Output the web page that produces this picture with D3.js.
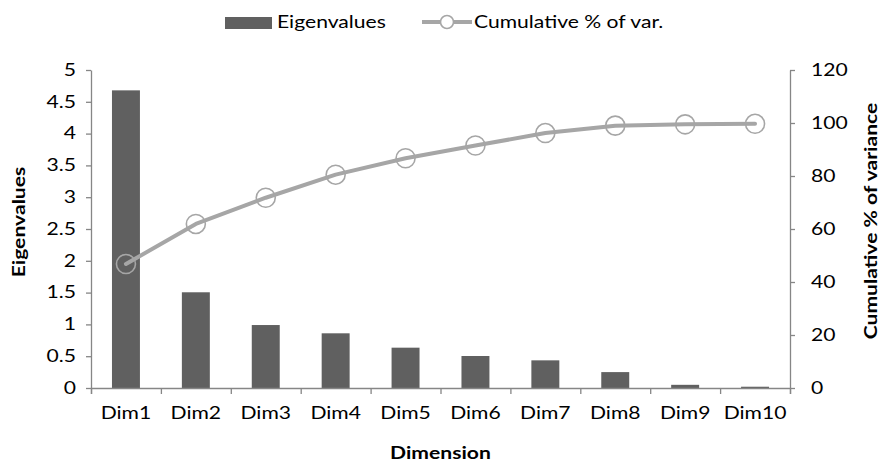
<!DOCTYPE html>
<html><head><meta charset="utf-8">
<script src="https://cdn.jsdelivr.net/npm/d3@7/dist/d3.min.js"></script>
<style>
html,body{margin:0;padding:0;background:#fff;}
text{font-family:Lato,sans-serif;fill:#000;}
</style></head>
<body><svg id="chart" width="880" height="462"></svg>
<script>
const categories = ["Dim1","Dim2","Dim3","Dim4","Dim5","Dim6","Dim7","Dim8","Dim9","Dim10"];
const eigenvalues = [4.68, 1.505, 0.99, 0.86, 0.634, 0.503, 0.435, 0.25, 0.05, 0.02];
const cumulative = [46.8, 61.9, 71.8, 80.5, 86.7, 91.5, 96.2, 99.0, 99.5, 99.7];
const leftTicks = [0,0.5,1,1.5,2,2.5,3,3.5,4,4.5,5];
const rightTicks = [0,20,40,60,80,100,120];
const seriesNames = ["Eigenvalues","Cumulative % of var."];
const axisTitles = {left:"Eigenvalues", right:"Cumulative % of variance", bottom:"Dimension"};

const svg = d3.select("#chart");
const L=91, R=790, T=70, B=388;
const axisColor="#868686", barColor="#606060", lineColor="#a6a6a6";
const fs = 16.5;
const sx = 1.28;
const font = "Lato";

function stretch(sel){
  sel.each(function(){
    const t = d3.select(this);
    const x0 = +t.attr("x") || 0;
    t.attr("x", x0/sx).attr("transform", (t.attr("transform")||"") + ` scale(${sx},1)`);
  });
}

const x = d3.scaleBand().domain(categories).range([L,R]).paddingInner(0.6).paddingOuter(0.3);
const yL = d3.scaleLinear().domain([0,5]).range([B,T]);
const yR = d3.scaleLinear().domain([0,120]).range([B,T]);

// bars
svg.append("g").selectAll("rect").data(eigenvalues).join("rect")
  .attr("x",(d,i)=>x(categories[i]))
  .attr("y",d=>yL(d))
  .attr("width",x.bandwidth())
  .attr("height",d=>B-yL(d))
  .attr("fill",barColor);

function styleAxis(g){
  g.selectAll("path,line").attr("stroke",axisColor).attr("stroke-width",1.3);
  g.selectAll("text").attr("font-size",fs).attr("font-family",font).attr("fill","#000").call(stretch);
}
// left axis
svg.append("g").attr("transform",`translate(${L},0)`)
  .call(d3.axisLeft(yL).tickValues(leftTicks).tickFormat(d3.format("")).tickSize(5).tickSizeOuter(0).tickPadding(10))
  .call(styleAxis);
// right axis
svg.append("g").attr("transform",`translate(${R},0)`)
  .call(d3.axisRight(yR).tickValues(rightTicks).tickSize(5).tickSizeOuter(0).tickPadding(16))
  .call(styleAxis);
// bottom boundary ticks
const xb = d3.scaleLinear().domain([0,categories.length]).range([L,R]);
svg.append("g").attr("transform",`translate(0,${B})`)
  .call(d3.axisBottom(xb).ticks(categories.length).tickFormat("").tickSize(6).tickSizeOuter(6))
  .call(styleAxis);
// bottom labels
svg.append("g").attr("transform",`translate(0,${B})`)
  .call(d3.axisBottom(x).tickSize(0).tickPadding(19))
  .call(g=>g.select(".domain").remove())
  .call(styleAxis);

// line
const cx = (d,i)=>x(categories[i])+x.bandwidth()/2;
svg.append("path").datum(cumulative)
  .attr("d", d3.line().x(cx).y(d=>yR(d)))
  .attr("fill","none").attr("stroke",lineColor).attr("stroke-width",4).attr("stroke-linejoin","round").attr("stroke-linecap","round");
svg.append("g").selectAll("circle").data(cumulative).join("circle")
  .attr("cx",cx).attr("cy",d=>yR(d)).attr("r",9.5)
  .attr("fill","none").attr("stroke",lineColor).attr("stroke-width",1.6);

// titles
svg.append("text").attr("transform","translate(25,222) rotate(-90)")
  .attr("text-anchor","middle").attr("font-weight","bold").attr("font-size",fs).text(axisTitles.left).call(stretch);
svg.append("text").attr("transform","translate(877,221) rotate(-90)")
  .attr("text-anchor","middle").attr("font-weight","bold").attr("font-size",fs).text(axisTitles.right).call(stretch);
svg.append("text").attr("x",(L+R)/2).attr("y",459)
  .attr("text-anchor","middle").attr("font-weight","bold").attr("font-size",fs).text(axisTitles.bottom).call(stretch);

// legend
const lg = svg.append("g");
lg.append("rect").attr("x",225).attr("y",17).attr("width",47).attr("height",12).attr("fill",barColor);
lg.append("text").attr("x",277).attr("y",28).attr("font-size",fs).text(seriesNames[0]).call(stretch);
lg.append("line").attr("x1",422).attr("x2",472).attr("y1",22).attr("y2",22).attr("stroke",lineColor).attr("stroke-width",4);
lg.append("circle").attr("cx",447).attr("cy",22).attr("r",6.5).attr("fill","#fff").attr("stroke",lineColor).attr("stroke-width",1.6);
lg.append("text").attr("x",474).attr("y",28).attr("font-size",fs).text(seriesNames[1]).call(stretch);
</script></body></html>
